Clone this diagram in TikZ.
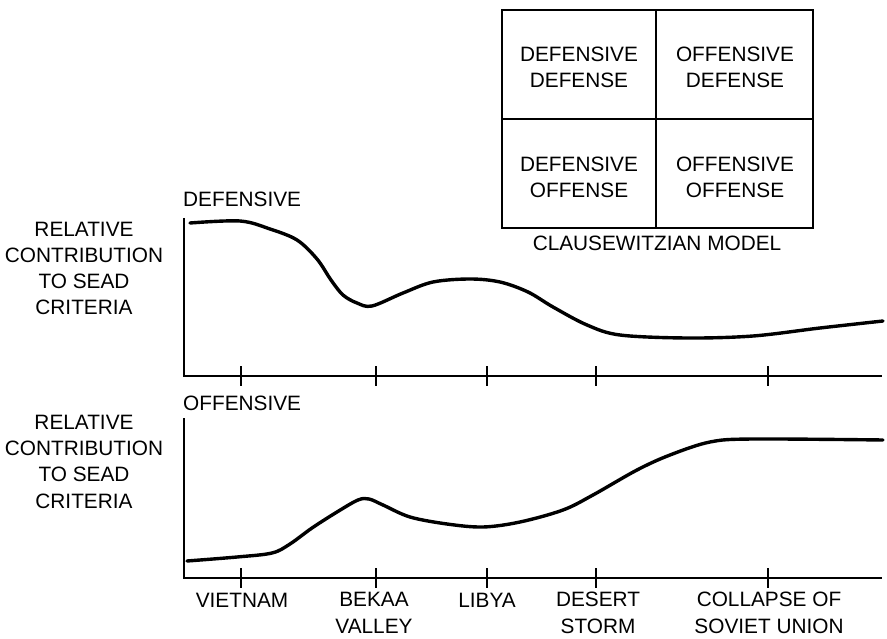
\documentclass[tikz,border=0pt]{standalone}
\usepackage{fontspec}
\setmainfont{Liberation Sans}
\begin{document}
\begin{tikzpicture}[x=1pt,y=-1pt,
  lbl/.style={inner sep=0pt, anchor=base, align=center, font=\fontsize{20.8}{26.3}\selectfont},
  axis/.style={line width=2.6pt, line cap=butt},
  tick/.style={line width=2.6pt},
  curve/.style={line width=3.4pt, line cap=round, line join=round},
  boxline/.style={line width=2.6pt}]
\useasboundingbox (0,0) rectangle (887,639);
% Clausewitzian box
\coordinate (bTL) at (502,10);
\coordinate (bBR) at (813,228);
\draw[boxline] (bTL) rectangle (bBR);
\draw[boxline] (656,10) -- (656,228);
\draw[boxline] (502,119) -- (813,119);
\node[lbl] (dd) at (579,88) {DEFENSIVE\\DEFENSE};
\node[lbl] (od) at (735,88) {OFFENSIVE\\DEFENSE};
\node[lbl] (do) at (579,198) {DEFENSIVE\\OFFENSE};
\node[lbl] (oo) at (735,198) {OFFENSIVE\\OFFENSE};
\node[lbl] (cm) at (657,251) {CLAUSEWITZIAN MODEL};
% upper axis
\coordinate (uTop) at (184,218);
\coordinate (uO) at (184,376);
\coordinate (uEnd) at (882,376);
\draw[axis] (uTop) -- (uO) -- (uEnd);
\foreach \x in {241,376,487,596,768} \draw[tick] (\x,366) -- (\x,386);
\node[lbl, anchor=base west] (def) at (183,207) {DEFENSIVE};
\node[lbl] (ry1) at (84,315) {RELATIVE\\CONTRIBUTION\\TO SEAD\\CRITERIA};
% lower axis
\coordinate (lTop) at (184,418);
\coordinate (lO) at (184,578);
\coordinate (lEnd) at (882,578);
\draw[axis] (lTop) -- (lO) -- (lEnd);
\foreach \x in {241,376,487,596,768} \draw[tick] (\x,568) -- (\x,588);
\node[lbl, anchor=base west] (off) at (183,410) {OFFENSIVE};
\node[lbl] (ry2) at (84,508) {RELATIVE\\CONTRIBUTION\\TO SEAD\\CRITERIA};
% x labels
\node[lbl] (vn) at (242,607) {VIETNAM};
\node[lbl] (bv) at (374,633) {BEKAA\\VALLEY};
\node[lbl] (ly) at (487,607) {LIBYA};
\node[lbl] (ds) at (598,633) {DESERT\\STORM};
\node[lbl] (cs) at (769,633) {COLLAPSE OF\\SOVIET UNION};
% curves
\draw[curve] plot[smooth, tension=0.55] coordinates {
 (190,223) (240,221) (270,229) (297,240) (317,259) (331,280) (343,295)
 (357,303) (372,306) (403,293) (433,282) (470,279) (500,282) (528,292)
 (553,307) (587,325) (620,335) (687,338) (753,336) (820,328) (883,321)};
\draw[curve] plot[smooth, tension=0.55] coordinates {
 (187,561) (237,557) (272,553) (290,544) (312,528) (337,512) (358,500)
 (369,499) (383,505) (410,517) (447,524) (483,527) (520,522) (563,510)
 (593,495) (637,470) (670,455) (710,442) (753,439) (883,440)};
\end{tikzpicture}
\end{document}
